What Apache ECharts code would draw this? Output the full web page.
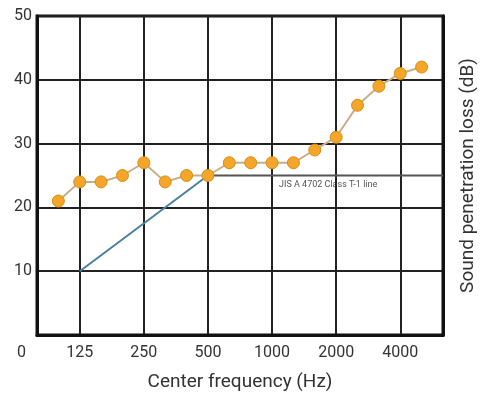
<!DOCTYPE html>
<html>
<head>
<meta charset="utf-8">
<script src="https://cdn.jsdelivr.net/npm/echarts@6/dist/echarts.min.js"></script>
<style>
  html, body { margin: 0; padding: 0; background: #fff; }
  #chart { width: 481px; height: 397px; }
</style>
</head>
<body>
<div id="chart"></div>
<script>
// 1/3 octave bands, 80 and 6300 only pad the axis ends
var freqs = ["80", "100", "125", "160", "200", "250", "315", "400", "500", "630",
  "800", "1000", "1250", "1600", "2000", "2500", "3150", "4000", "5000", "6300"];
var shownFreqs = ["125", "250", "500", "1000", "2000", "4000"];
var lossValues = [null, 21, 24, 24, 25, 27, 24, 25, 25, 27,
  27, 27, 27, 29, 31, 36, 39, 41, 42, null];
var t1Slope = [["125", 10], ["500", 25]];
var t1Flat = [["500", 25], ["6300", 25]];
var yTicks = [0, 10, 20, 30, 40, 50];

var chart = echarts.init(document.getElementById("chart"));
var txt = "#333";
var gridLine = { lineStyle: { color: "#222", width: 2 } };

var option = {
  animation: false,
  grid: {
    left: 37, right: 38, top: 16, bottom: 62,
    outerBoundsMode: "none",
    show: true, borderWidth: 3, borderColor: "#111"
  },
  xAxis: {
    type: "category",
    data: freqs,
    boundaryGap: false,
    name: "Center frequency (Hz)",
    nameLocation: "middle",
    nameGap: 38,
    nameTextStyle: { color: txt, fontSize: 19, fontFamily: "Roboto" },
    axisLine: { lineStyle: { color: "#111", width: 3 } },
    axisTick: { show: false },
    axisLabel: {
      color: txt, fontSize: 16, fontFamily: "Roboto", margin: 10,
      interval: function (i, v) { return shownFreqs.indexOf(v) >= 0; }
    },
    splitLine: {
      show: true,
      interval: function (i, v) { return shownFreqs.indexOf(v) >= 0; },
      lineStyle: gridLine.lineStyle
    }
  },
  yAxis: [{
    type: "value",
    min: yTicks[0],
    max: yTicks[yTicks.length - 1],
    interval: 10,
    axisLine: { show: true, lineStyle: { color: "#111", width: 3 } },
    axisTick: { show: false },
    axisLabel: {
      color: txt, fontSize: 16, fontFamily: "Roboto", margin: 5,
      formatter: function (v) { return v === 0 ? "" : v; }
    },
    splitLine: gridLine
  }, {
    type: "value",
    position: "right",
    min: 0, max: 50,
    name: "Sound penetration loss (dB)",
    nameLocation: "middle",
    nameGap: 16,
    nameRotate: 90,
    nameTextStyle: { color: txt, fontSize: 19, fontFamily: "Roboto" },
    axisLine: { show: true, lineStyle: { color: "#111", width: 3 } },
    axisTick: { show: false },
    axisLabel: { show: false },
    splitLine: { show: false }
  }],
  graphic: [{
    type: "text", left: 17, top: 345,
    style: { text: "0", fill: txt, font: "16px Roboto" }
  }, {
    type: "text", left: 279, top: 180,
    style: { text: "JIS A 4702 Class T-1 line", fill: "#555", font: "9px Roboto" }
  }],
  series: [{
    type: "line",
    data: t1Slope,
    symbol: "none",
    lineStyle: { color: "#4a7f9e", width: 2 },
    z: 2
  }, {
    type: "line",
    data: t1Flat,
    symbol: "none",
    lineStyle: { color: "#555", width: 2 },
    z: 2
  }, {
    type: "line",
    data: lossValues,
    symbol: "circle",
    symbolSize: 12,
    lineStyle: { color: "#c8ad88", width: 2 },
    itemStyle: { color: "#f4a62a", borderColor: "#d98c14", borderWidth: 1 },
    z: 3
  }]
};
chart.setOption(option);
</script>
</body>
</html>
